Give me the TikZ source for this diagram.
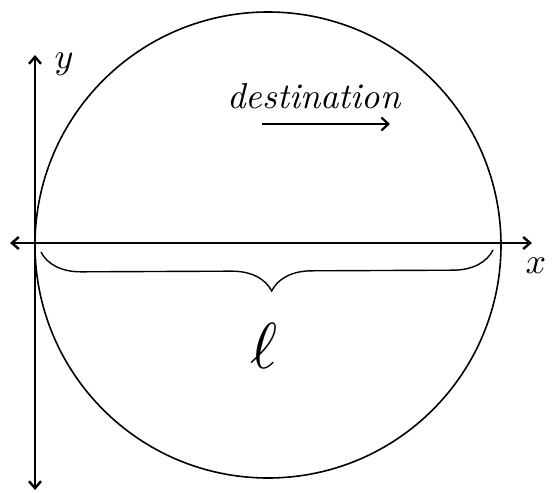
\documentclass[tikz,border=0pt]{standalone}
\usepackage{amsmath}
\usepackage{amssymb}
\usetikzlibrary{
    arrows.meta,
    positioning,
    calc,
    decorations.pathreplacing
}
\tikzset{
    axis/.style={line width=2.4pt, {Straight Barb[length=7pt,width=12pt]}-{Straight Barb[length=7pt,width=12pt]}},
    hand/.style={font=\itshape}
}

\begin{document}
\begin{tikzpicture}[
    >=Latex,
    x=1pt, y=-1pt
]

\useasboundingbox (0,0) rectangle (558,493);

\coordinate (C) at (268,245);
\coordinate (L) at (10,243);
\coordinate (R) at (532,243);
\coordinate (T) at (35,55);
\coordinate (B) at (35,490);

% circle
\draw[line width=1.6pt] (C) circle[radius=233];

% axes
\draw[axis] (L) -- (R);
\draw[axis] (B) -- (T);

\node[scale=3.6] (ylab) at (64,64) {$y$};
\node[scale=3.6] (xlab) at (536,266) {$x$};

% direction of travel
\node[hand, scale=3.6] (dest) at (314,96) {destination};
\coordinate (A0) at (262,124);
\coordinate (A1) at (390,124);
\draw[line width=2.2pt, -{Straight Barb[length=7pt,width=13pt]}] (A0) -- (A1);

% length of the diameter
\coordinate (b0) at (41,252);
\coordinate (b1) at (493,250);
\draw[line width=1.4pt, decorate,
      decoration={brace, mirror, amplitude=40pt, aspect=0.51}]
    (b0) -- (b1);
\node[scale=6.5] (len) at (264,346) {$\ell$};

\end{tikzpicture}
\end{document}
